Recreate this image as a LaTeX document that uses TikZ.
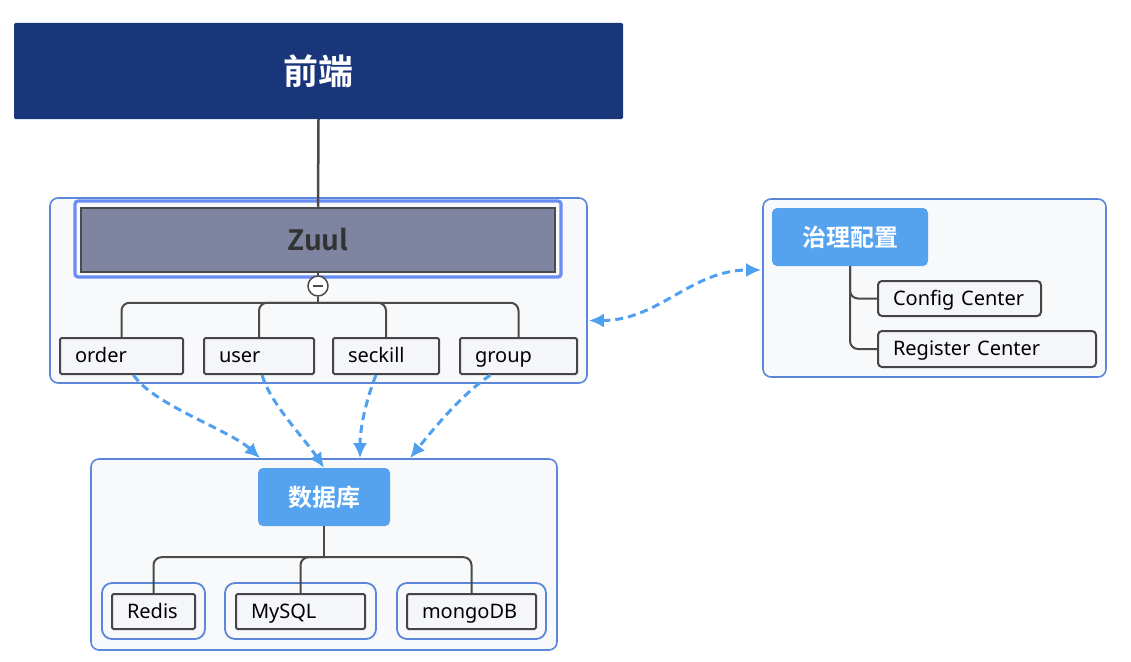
\documentclass[tikz,border=0pt]{standalone}
\usepackage{fontspec}
\setmainfont{Noto Sans}
\newfontfamily\cjkb{Noto Sans CJK SC}[UprightFont=* Bold]
\usetikzlibrary{arrows.meta,calc}
\definecolor{navy}{HTML}{19367A}
\definecolor{contb}{HTML}{5B87D8}
\definecolor{contf}{HTML}{F8F9FB}
\definecolor{hdrblue}{HTML}{55A2EE}
\definecolor{dashblue}{HTML}{4FA0EE}
\definecolor{zuulf}{HTML}{7F84A0}
\definecolor{zuulhl}{HTML}{6A8CF5}
\definecolor{leafd}{HTML}{454545}
\definecolor{leaff}{HTML}{F5F6F9}
\definecolor{treec}{HTML}{4A4A4A}
\tikzset{
  container/.style={draw=contb, line width=1.6pt, fill=contf, rounded corners=8pt, inner sep=0pt},
  subcont/.style={draw=contb, line width=1.8pt, fill=contf, rounded corners=10pt, inner sep=0pt},
  header/.style={fill=hdrblue, rounded corners=5pt, text=white, inner sep=0pt,
    font=\cjkb\fontsize{24}{27}\selectfont},
  leaf/.style={draw=leafd, line width=2pt, fill=leaff, rounded corners=1.5pt,
    minimum height=36pt, text width=#1, inner xsep=15pt, inner ysep=0pt, align=left,
    text height=16pt, text depth=3pt, font=\fontsize{20}{23}\selectfont},
  rleaf/.style={leaf=#1, rounded corners=4pt, minimum height=35pt},
  tree/.style={draw=treec, line width=2pt, rounded corners=8pt},
  dasharr/.style={draw=dashblue, line width=3pt, dash pattern=on 8pt off 5pt,
    -{Latex[length=15pt,width=14pt]}},
}
\begin{document}
\begin{tikzpicture}[x=1pt,y=-1pt]
\useasboundingbox (0,0) rectangle (1131,661);
% containers
\node[container, minimum width=537pt, minimum height=185pt] (gate) at (318.5,290.5) {};
\node[container, minimum width=343pt, minimum height=178pt] (govbox) at (934.5,288) {};
\node[container, minimum width=466pt, minimum height=191pt] (dbbox) at (324,554.5) {};
% front end
\node[fill=navy, rounded corners=1.5pt, minimum width=609pt, minimum height=96pt, inner sep=0pt,
  text=white, font=\cjkb\fontsize{35}{38}\selectfont] (fe) at (318.5,71) {前端};
% zuul
\node[draw=zuulhl, line width=3.2pt, fill=contf, rounded corners=3pt, minimum width=486pt,
  minimum height=76pt, inner sep=0pt] (zuulhl) at (318,239) {};
\node[draw=treec, line width=2.5pt, fill=zuulf, minimum width=474pt, minimum height=64pt,
  inner sep=0pt, text=black!80, font=\cjkb\fontsize{28}{30}\selectfont] (zuul) at (318,240) {Zuul};
\draw[treec, line width=2.5pt] (fe.south) -- (zuul.north);
\node[circle, draw=treec, line width=1.5pt, fill=white, minimum size=20pt, inner sep=0pt] (fold) at (318,286) {};
\draw[treec, line width=1.5pt] ($(fold.center)+(-5,0)$) -- ($(fold.center)+(5,0)$);
\draw[tree] (zuul.south) -- (fold.north);
% services
\node[leaf=93pt] (order) at (121.5,356) {order};
\node[leaf=80pt] (user) at (259,356) {user};
\node[leaf=76pt] (seckill) at (386,356) {seckill};
\node[leaf=87pt] (group) at (518.5,356) {group};
\coordinate (bus) at ($(fold.south)+(0,6)$);
\draw[tree] (fold.south) -- (bus);
\foreach \n in {order,user,seckill,group} \draw[tree] (bus) -| (\n.north);
% governance
\node[header, minimum width=156pt, minimum height=58pt] (gov) at (850,237) {治理配置};
\node[rleaf=133pt] (config) at (959.5,298.5) {Config Center};
\node[rleaf=188pt, minimum height=36pt] (register) at (987,349) {Register Center};
\draw[tree] (gov.south) |- (config.west);
\draw[tree] (gov.south) |- (register.west);
% database
\node[header, minimum width=132pt, minimum height=58pt] (db) at (324,497) {数据库};
\node[subcont, minimum width=103pt, minimum height=56pt] (redisO) at (153.5,611) {};
\node[subcont, minimum width=151pt, minimum height=56pt] (mysqlO) at (300.5,611) {};
\node[subcont, minimum width=149pt, minimum height=56pt] (mongoO) at (471.5,611) {};
\node[leaf=53pt, minimum height=35pt] (redis) at (153.5,611.5) {Redis};
\node[leaf=99pt, minimum height=35pt] (mysql) at (300.5,611.5) {MySQL};
\node[leaf=99pt, minimum height=35pt] (mongo) at (471.5,611.5) {mongoDB};
\coordinate (dbus) at ($(db.south)+(0,31)$);
\draw[tree] (db.south) -- (dbus);
\foreach \n in {redis,mysql,mongo} \draw[tree] (dbus) -| (\n.north);
% dashed arrows
\draw[dasharr] ($(order.south)+(12,0)$) .. controls +(20,30) and +(-30,-28) .. ($(dbbox.north)+(-64,0)$);
\draw[dasharr] ($(user.south)+(3,0)$) .. controls +(8,28) and +(-20,-30) .. (db.north);
\draw[dasharr] ($(seckill.south)+(-10,0)$) .. controls +(-10,25) and +(0,-30) .. ($(dbbox.north)+(36,0)$);
\draw[dasharr] ($(group.south)+(-28,0)$) .. controls +(-30,20) and +(20,-25) .. ($(dbbox.north)+(86,0)$);
\draw[dasharr, {Latex[length=15pt,width=14pt]}-{Latex[length=15pt,width=14pt]}]
  ($(gate.east)+(1,30)$) .. controls +(70,0) and +(-70,0) .. ($(govbox.west)+(-1,-18)$);
\end{tikzpicture}
\end{document}
